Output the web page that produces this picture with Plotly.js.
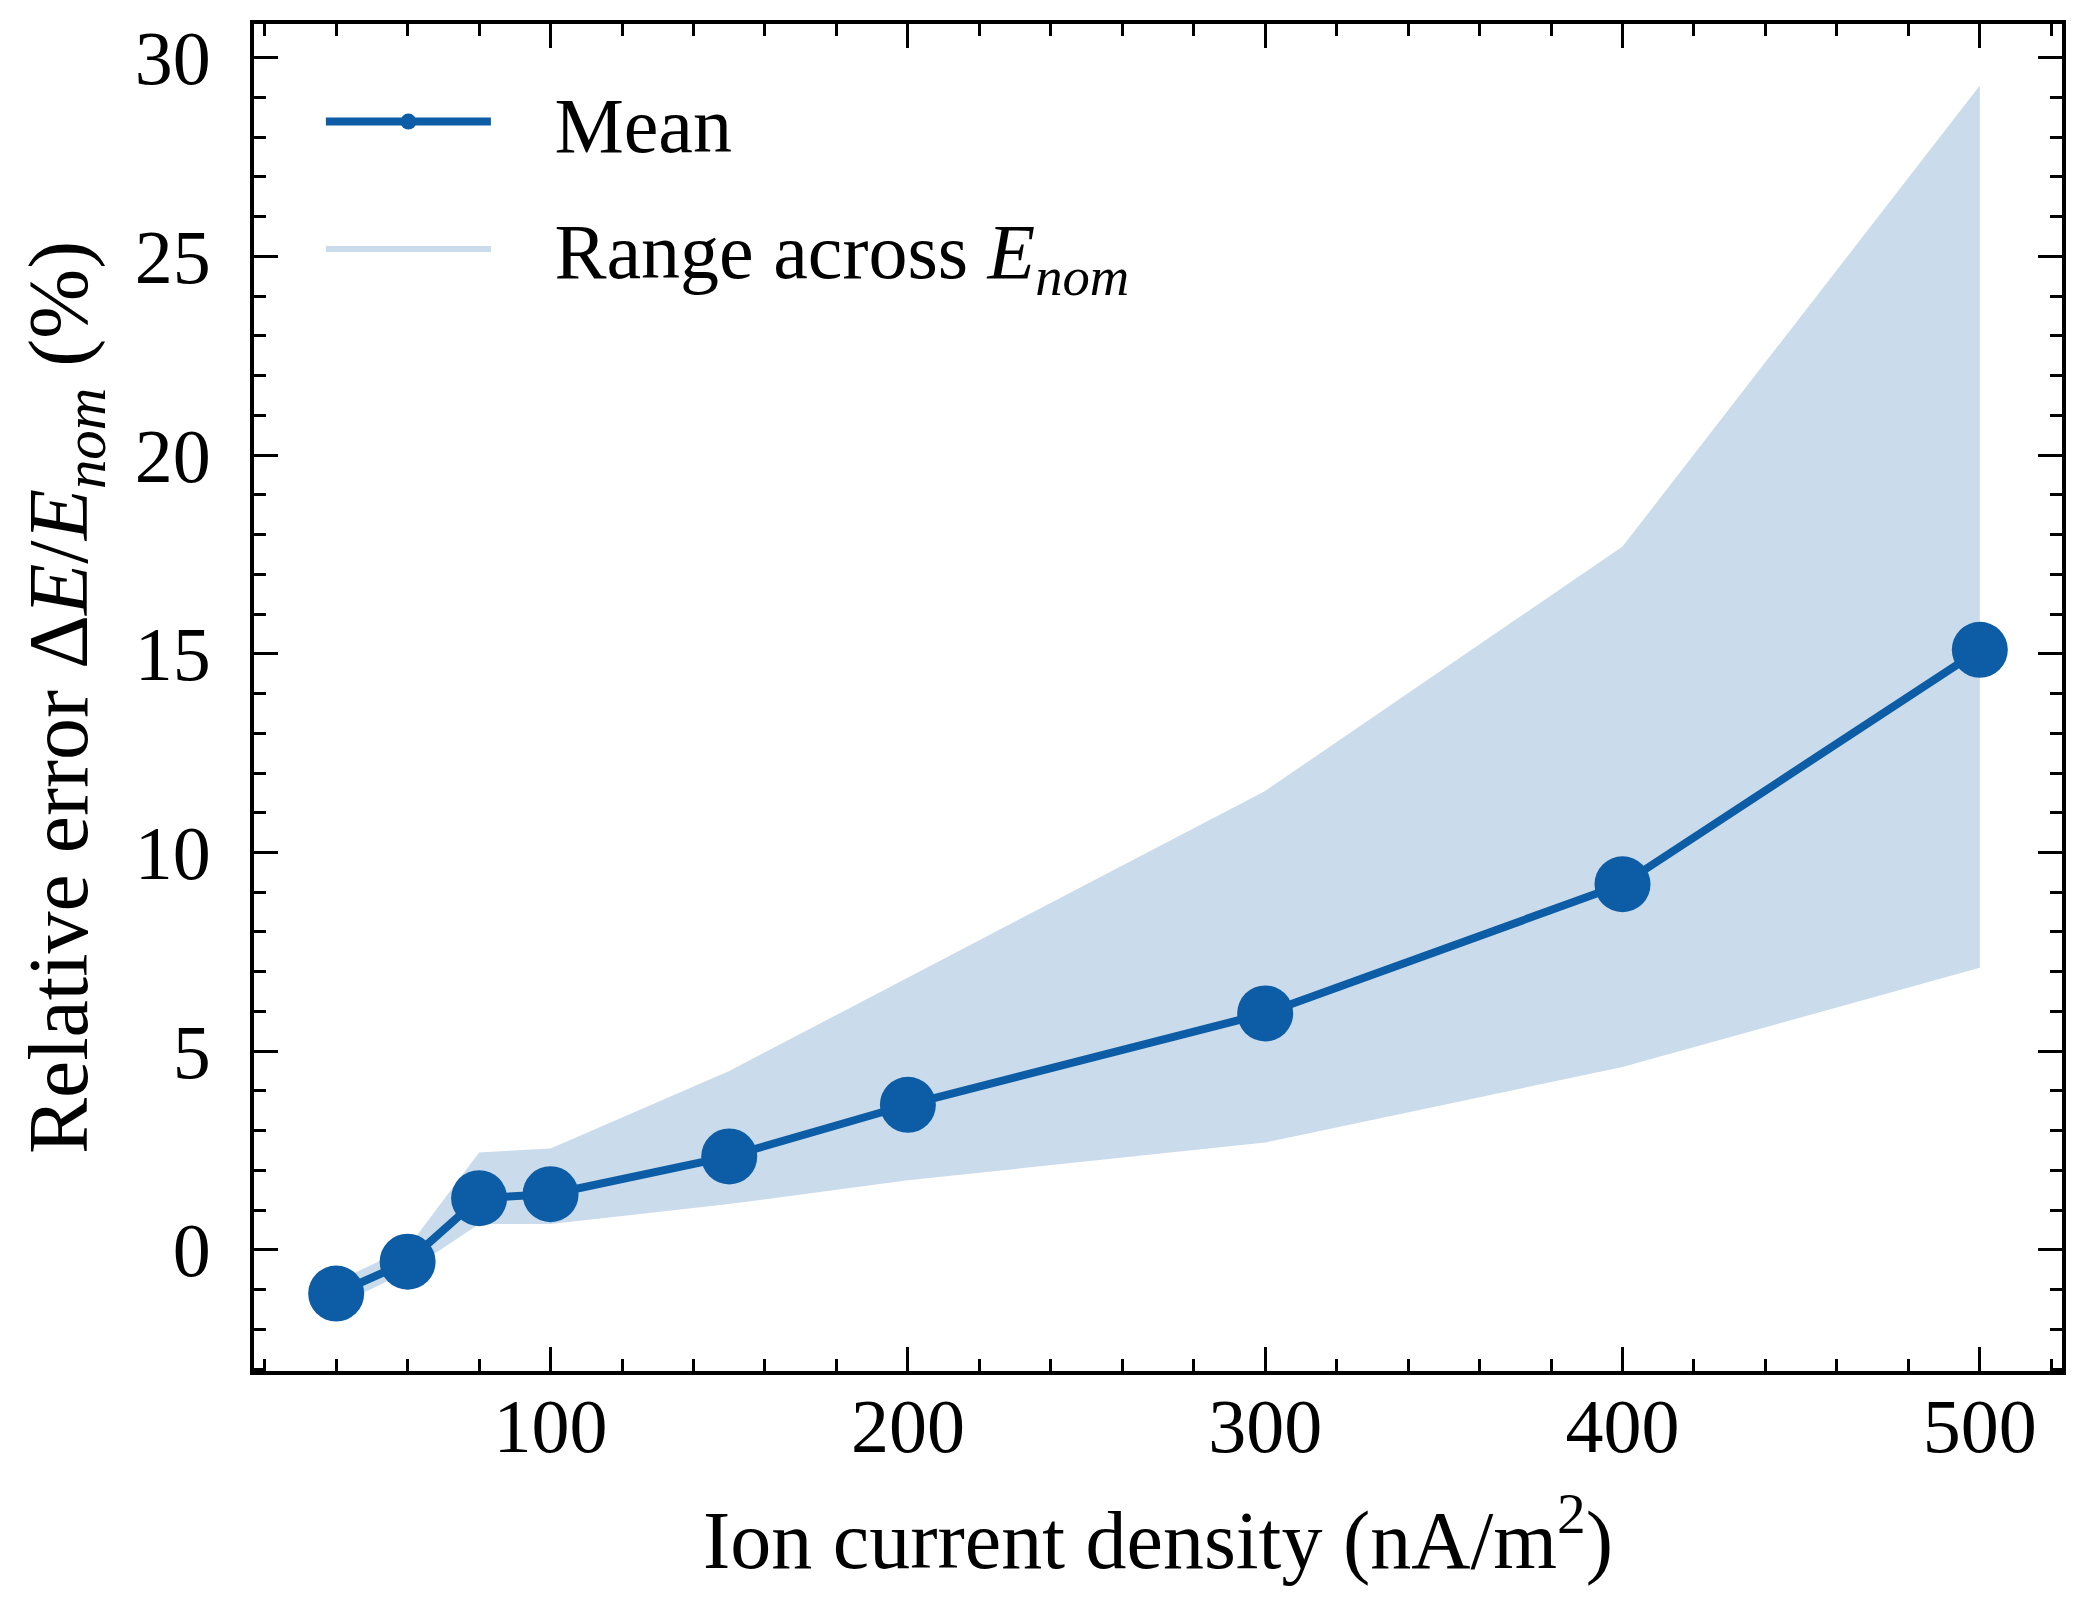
<!DOCTYPE html>
<html>
<head>
<meta charset="utf-8">
<script src="https://cdn.plot.ly/plotly-3.0.1.min.js"></script>
<style>
  html, body { margin: 0; padding: 0; background: #fff; }
  #chart { width: 2089px; height: 1619px; }
</style>
</head>
<body>
<div id="chart"></div>
<script>
// ion current density (nA/m^2)
var currentDensity = [40, 60, 80, 100, 150, 200, 300, 400, 500];
// mean relative error (%)
var meanError = [-1.1, -0.3, 1.3, 1.4, 2.35, 3.65, 5.95, 9.2, 15.1];
// spread across E_nom
var rangeLow = [-1.4, -0.55, 0.65, 0.65, 1.15, 1.75, 2.7, 4.6, 7.1];
var rangeHigh = [-0.8, 0.05, 2.45, 2.55, 4.5, 6.85, 11.55, 17.7, 29.3];

var blue = "#0C5DA5";
var serif = "Liberation Serif, Times New Roman, serif";
var gap = "\u00A0\u00A0\u00A0";

var lowTrace = {
  x: currentDensity,
  y: rangeLow,
  type: "scatter",
  mode: "lines",
  line: {width: 0, color: blue},
  showlegend: false,
  legendgroup: "range",
  hoverinfo: "skip"
};

var highTrace = {
  x: currentDensity,
  y: rangeHigh,
  type: "scatter",
  mode: "lines",
  fill: "tonexty",
  fillcolor: "rgba(12,93,165,0.22)",
  line: {width: 0, color: blue},
  name: gap + "Range across <i>E</i><sub><i>nom</i></sub>",
  legendgroup: "range",
  legendrank: 2
};

var meanTrace = {
  x: currentDensity,
  y: meanError,
  type: "scatter",
  mode: "lines+markers",
  line: {width: 8, color: blue},
  marker: {size: 56, color: blue},
  name: gap + "Mean",
  legendgroup: "mean",
  legendrank: 1
};

var axisStyle = {
  showline: true,
  linecolor: "#000",
  linewidth: 4,
  mirror: "allticks",
  ticks: "inside",
  ticklen: 24,
  tickwidth: 3,
  tickcolor: "#000",
  showgrid: false,
  zeroline: false,
  tickfont: {family: serif, size: 76, color: "#000"}
};

var layout = {
  width: 2089,
  height: 1619,
  paper_bgcolor: "#fff",
  plot_bgcolor: "#fff",
  margin: {l: 254, r: 27, t: 24, b: 248},
  font: {family: serif, size: 76, color: "#000"},
  xaxis: Object.assign({}, axisStyle, {
    range: [17, 523],
    dtick: 100,
    tick0: 0,
    ticklabelstandoff: -14,
    minor: {dtick: 20, ticks: "inside", ticklen: 12, tickwidth: 3, tickcolor: "#000"},
    title: {text: "Ion current density (nA/m<sup>2</sup>)", font: {family: serif, size: 82}, standoff: 44}
  }),
  yaxis: Object.assign({}, axisStyle, {
    range: [-3.05, 30.85],
    dtick: 5,
    tick0: 0,
    ticklabelstandoff: 24,
    minor: {dtick: 1, ticks: "inside", ticklen: 12, tickwidth: 3, tickcolor: "#000"},
    title: {text: "Relative error Δ<i>E</i>/<i>E</i><sub><i>nom</i></sub> (%)", font: {family: serif, size: 84}, standoff: 20}
  }),
  showlegend: true,
  legend: {
    x: 0.037,
    y: 0.97,
    xanchor: "left",
    yanchor: "top",
    bgcolor: "rgba(0,0,0,0)",
    font: {family: serif, size: 78, color: "#000"},
    itemwidth: 165,
    traceorder: "grouped",
    tracegroupgap: 22
  }
};

Plotly.newPlot("chart", [lowTrace, highTrace, meanTrace], layout, {displayModeBar: false, staticPlot: true});
</script>
</body>
</html>
